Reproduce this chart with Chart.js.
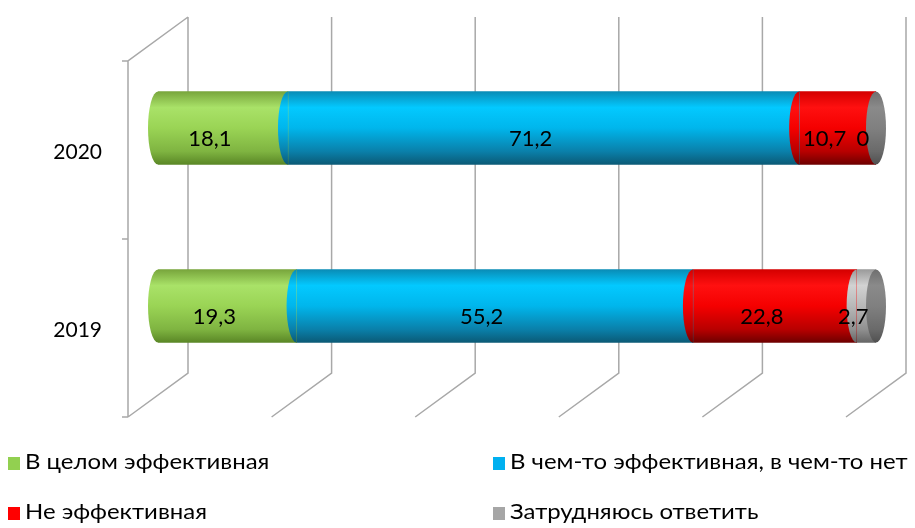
<!DOCTYPE html>
<html>
<head>
<meta charset="utf-8">
<script src="https://cdn.jsdelivr.net/npm/chart.js@4.4.0/dist/chart.umd.min.js"></script>
<style>
  body { margin: 0; background: #fff; }
  #wrap { position: relative; width: 915px; height: 528px; overflow: hidden; }
  .leg { position: absolute; font-family: Lato, sans-serif; font-size: 20px; color: #000; white-space: nowrap; line-height: 20px; }
  .leg span { display: inline-block; width: 12px; height: 13px; margin-right: 5px; vertical-align: -1px; }
  .leg b { display: inline-block; font-weight: normal; font-size: 21px; transform: scaleX(1.14); transform-origin: 0 50%; }
</style>
</head>
<body>
<div id="wrap">
  <canvas id="chart"></canvas>
</div>
<script>
// Data
const years = ['2020', '2019'];
const seriesNames = ['В целом эффективная', 'В чем-то эффективная, в чем-то нет', 'Не эффективная', 'Затрудняюсь ответить'];
const effective = [18.1, 19.3];
const partly = [71.2, 55.2];
const notEffective = [10.7, 22.8];
const noAnswer = [0, 2.7];
const xTicks = [0, 20, 40, 60, 80, 100];

// Styles
const legendColors = ['#92D050', '#00B0F0', '#FF0000', '#A6A6A6'];
const shades = [
  ['#78a53c', '#a9e268', '#9ad455', '#7fb441', '#5a8726'],
  ['#0a8cb6', '#03c9ff', '#00b6ec', '#0a80aa', '#0b5a76'],
  ['#d40000', '#ff1010', '#f50000', '#b80000', '#6e0000'],
  ['#9a9a9a', '#d2d2d2', '#b8b8b8', '#909090', '#666666']
];
const capShade = ['#6f6f6f', '#8a8a8a', '#808080', '#6a6a6a', '#505050'];
const BAR_H = 73;
const RX = 10;
const DX = 30, DY = 22; // 3D depth offset (half)

function cylGradient(chart, y, stops) {
  const g = chart.ctx.createLinearGradient(0, y - BAR_H / 2, 0, y + BAR_H / 2);
  g.addColorStop(0, stops[0]);
  g.addColorStop(0.22, stops[1]);
  g.addColorStop(0.5, stops[2]);
  g.addColorStop(0.82, stops[3]);
  g.addColorStop(1, stops[4]);
  return g;
}

function fillFor(idx) {
  return function(ctx) {
    const chart = ctx.chart;
    if (!chart.chartArea || ctx.dataIndex === undefined) return legendColors[idx];
    const y = chart.scales.y.getPixelForValue(ctx.dataIndex);
    return cylGradient(chart, y, shades[idx]);
  };
}

const grid3d = {
  id: 'grid3d',
  beforeDatasetsDraw(chart) {
    const ctx = chart.ctx, ca = chart.chartArea, x = chart.scales.x, y = chart.scales.y;
    ctx.save();
    ctx.strokeStyle = '#a8a8a8';
    ctx.lineWidth = 1.5;
    ctx.beginPath();
    xTicks.forEach(v => {
      const px = x.getPixelForValue(v);
      ctx.moveTo(px + DX, ca.top - DY);
      ctx.lineTo(px + DX, ca.bottom - DY);
      ctx.lineTo(px - DX, ca.bottom + DY);
    });
    const lx = x.getPixelForValue(0);
    ctx.moveTo(lx + DX, ca.top - DY);
    ctx.lineTo(lx - DX, ca.top + DY);
    ctx.lineTo(lx - DX, ca.bottom + DY);
    // category ticks
    const step = (ca.bottom - ca.top) / years.length;
    for (let i = 0; i <= years.length; i++) {
      const ty = ca.top + DY + step * i;
      ctx.moveTo(lx - DX - 6, ty);
      ctx.lineTo(lx - DX, ty);
    }
    ctx.stroke();
    // category labels
    ctx.fillStyle = '#000';
    ctx.font = '21px Lato';
    ctx.textAlign = 'right';
    ctx.textBaseline = 'middle';
    years.forEach((lab, i) => {
      ctx.fillText(lab, lx - DX - 26, y.getPixelForValue(i) + DY + 2);
    });
    ctx.restore();
  },
  afterDatasetsDraw(chart) {
    const ctx = chart.ctx;
    const metas = chart.data.datasets.map((d, i) => chart.getDatasetMeta(i));
    ctx.save();
    years.forEach((lab, j) => {
      // segment left ends (convex ellipse halves)
      metas.forEach((m, i) => {
        const el = m.data[j];
        const v = chart.data.datasets[i].data[j];
        if (v <= 0) return;
        ctx.beginPath();
        ctx.ellipse(el.base, el.y, RX, BAR_H / 2, 0, Math.PI / 2, Math.PI * 1.5);
        ctx.closePath();
        ctx.fillStyle = el.options.backgroundColor;
        ctx.fill();
      });
      // end face
      const last = metas[metas.length - 1].data[j];
      ctx.beginPath();
      ctx.ellipse(last.x, last.y, RX, BAR_H / 2, 0, 0, Math.PI * 2);
      ctx.fillStyle = cylGradient(chart, last.y, capShade);
      ctx.fill();
    });
    // value labels
    ctx.fillStyle = '#000';
    ctx.font = '22px Lato';
    ctx.textAlign = 'center';
    ctx.textBaseline = 'middle';
    metas.forEach((m, i) => {
      m.data.forEach((el, j) => {
        const v = chart.data.datasets[i].data[j];
        ctx.fillText(String(v).replace('.', ','), (el.base + el.x) / 2 - 13, el.y + 11);
      });
    });
    ctx.restore();
  }
};

const seriesData = [effective, partly, notEffective, noAnswer];

new Chart(document.getElementById('chart'), {
  type: 'bar',
  data: {
    labels: years,
    datasets: seriesData.map((d, i) => ({
      label: seriesNames[i],
      data: d,
      backgroundColor: fillFor(i),
      borderWidth: 0,
      barThickness: BAR_H
    }))
  },
  options: {
    indexAxis: 'y',
    responsive: true,
    maintainAspectRatio: false,
    animation: false,
    layout: { padding: { left: 158, right: 39, top: 39, bottom: 133 } },
    plugins: { legend: { display: false }, tooltip: { enabled: false } },
    scales: {
      x: { stacked: true, min: 0, max: 100, display: false },
      y: { stacked: true, display: false }
    }
  },
  plugins: [grid3d]
});

// Legend
const legPos = [[8, 451], [493, 451], [8, 501], [493, 501]];
const wrap = document.getElementById('wrap');
seriesNames.forEach((name, i) => {
  const d = document.createElement('div');
  d.className = 'leg';
  d.style.left = legPos[i][0] + 'px';
  d.style.top = legPos[i][1] + 'px';
  d.innerHTML = '<span style="background:' + legendColors[i] + '"></span><b>' + name + '</b>';
  wrap.appendChild(d);
});
</script>
</body>
</html>
